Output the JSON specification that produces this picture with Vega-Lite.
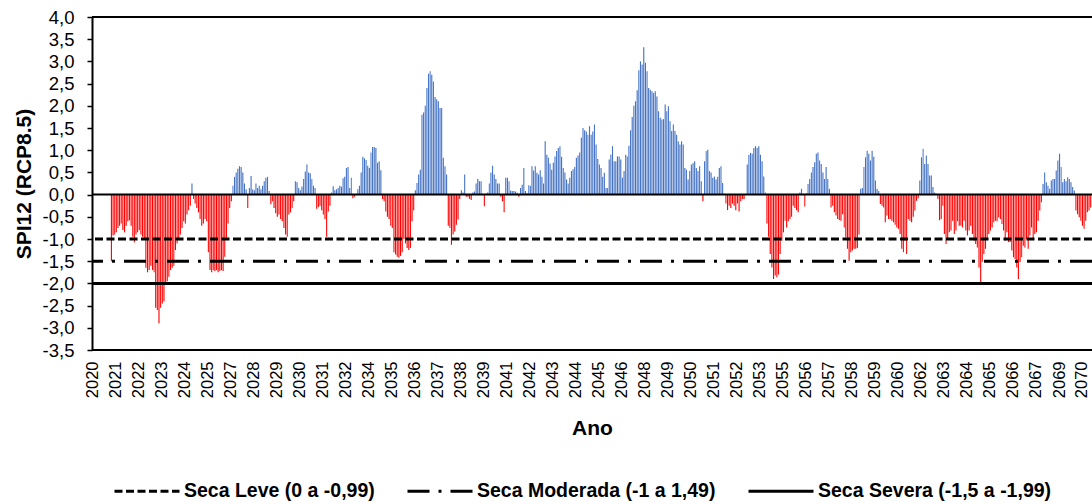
{
  "$schema": "https://vega.github.io/schema/vega-lite/v6.json",
  "width": 1000,
  "height": 333,
  "autosize": {"type": "none"},
  "padding": {"left": 92, "top": 17, "right": 0, "bottom": 154},
  "background": "white",
  "config": {
    "view": {"stroke": null},
    "font": "Liberation Sans",
    "locale": {"number": {"decimal": ",", "thousands": ".", "grouping": [3], "currency": ["", ""], "minus": "-"}},
    "axisY": {
      "labelFontSize": 18.5,
      "labelColor": "black",
      "labelPadding": 13,
      "labelOverlap": false,
      "labelBound": false,
      "labelFlush": false,
      "tickSize": 5,
      "tickWidth": 1.5,
      "tickColor": "black",
      "domainColor": "black",
      "domainWidth": 2,
      "grid": false,
      "titleFontSize": 21,
      "titleFontWeight": "bold",
      "titleColor": "black",
      "titlePadding": 8
    },
    "axisX": {
      "labelAngle": -90,
      "labelFontSize": 16.5,
      "labelColor": "black",
      "labelPadding": 11,
      "labelOverlap": false,
      "labelFlush": false,
      "labelBound": false,
      "ticks": false,
      "domain": false,
      "grid": false,
      "titleFontSize": 21,
      "titleFontWeight": "bold",
      "titleColor": "black",
      "titlePadding": 20
    }
  },
  "datasets": {
    "spi": [
      {"d":"2020-12","v":-1.5},
      {"d":"2021-01","v":-0.92},{"d":"2021-02","v":-0.9},{"d":"2021-03","v":-0.85},{"d":"2021-04","v":-0.75},{"d":"2021-05","v":-0.7},{"d":"2021-06","v":-0.65},{"d":"2021-07","v":-0.8},{"d":"2021-08","v":-0.85},{"d":"2021-09","v":-0.7},{"d":"2021-10","v":-0.6},{"d":"2021-11","v":-0.58},{"d":"2021-12","v":-0.7},
      {"d":"2022-01","v":-0.95},{"d":"2022-02","v":-1.08},{"d":"2022-03","v":-0.9},{"d":"2022-04","v":-0.85},{"d":"2022-05","v":-0.8},{"d":"2022-06","v":-0.9},{"d":"2022-07","v":-0.95},{"d":"2022-08","v":-1.0},{"d":"2022-09","v":-1.65},{"d":"2022-10","v":-1.75},{"d":"2022-11","v":-1.7},{"d":"2022-12","v":-1.6},
      {"d":"2023-01","v":-1.7},{"d":"2023-02","v":-1.75},{"d":"2023-03","v":-2.55},{"d":"2023-04","v":-2.6},{"d":"2023-05","v":-2.9},{"d":"2023-06","v":-2.55},{"d":"2023-07","v":-2.45},{"d":"2023-08","v":-2.4},{"d":"2023-09","v":-2.0},{"d":"2023-10","v":-1.95},{"d":"2023-11","v":-1.85},{"d":"2023-12","v":-1.7},
      {"d":"2024-01","v":-1.65},{"d":"2024-02","v":-1.6},{"d":"2024-03","v":-1.25},{"d":"2024-04","v":-1.1},{"d":"2024-05","v":-1.0},{"d":"2024-06","v":-0.9},{"d":"2024-07","v":-0.75},{"d":"2024-08","v":-0.6},{"d":"2024-09","v":-0.65},{"d":"2024-10","v":-0.45},{"d":"2024-11","v":-0.35},{"d":"2024-12","v":-0.25},
      {"d":"2025-01","v":0.25},{"d":"2025-02","v":-0.1},{"d":"2025-03","v":-0.2},{"d":"2025-04","v":-0.3},{"d":"2025-05","v":-0.4},{"d":"2025-06","v":-0.55},{"d":"2025-07","v":-0.7},{"d":"2025-08","v":-0.65},{"d":"2025-09","v":-0.55},{"d":"2025-10","v":-0.6},{"d":"2025-11","v":-1.3},{"d":"2025-12","v":-1.7},
      {"d":"2026-01","v":-1.75},{"d":"2026-02","v":-1.7},{"d":"2026-03","v":-1.72},{"d":"2026-04","v":-1.7},{"d":"2026-05","v":-1.75},{"d":"2026-06","v":-1.72},{"d":"2026-07","v":-1.7},{"d":"2026-08","v":-1.72},{"d":"2026-09","v":-1.4},{"d":"2026-10","v":-1.0},{"d":"2026-11","v":-0.65},{"d":"2026-12","v":-0.3},
      {"d":"2027-01","v":-0.15},{"d":"2027-02","v":0.2},{"d":"2027-03","v":0.4},{"d":"2027-04","v":0.5},{"d":"2027-05","v":0.58},{"d":"2027-06","v":0.64},{"d":"2027-07","v":0.62},{"d":"2027-08","v":0.5},{"d":"2027-09","v":0.25},{"d":"2027-10","v":0.12},{"d":"2027-11","v":-0.3},{"d":"2027-12","v":0.15},
      {"d":"2028-01","v":0.42},{"d":"2028-02","v":0.12},{"d":"2028-03","v":0.1},{"d":"2028-04","v":0.25},{"d":"2028-05","v":0.15},{"d":"2028-06","v":0.2},{"d":"2028-07","v":0.12},{"d":"2028-08","v":0.2},{"d":"2028-09","v":0.3},{"d":"2028-10","v":0.38},{"d":"2028-11","v":0.4},{"d":"2028-12","v":0.08},
      {"d":"2029-01","v":-0.22},{"d":"2029-02","v":-0.15},{"d":"2029-03","v":-0.3},{"d":"2029-04","v":-0.42},{"d":"2029-05","v":-0.5},{"d":"2029-06","v":-0.45},{"d":"2029-07","v":-0.55},{"d":"2029-08","v":-0.6},{"d":"2029-09","v":-0.75},{"d":"2029-10","v":-0.9},{"d":"2029-11","v":-0.95},{"d":"2029-12","v":-0.45},
      {"d":"2030-01","v":-0.4},{"d":"2030-02","v":-0.3},{"d":"2030-03","v":-0.15},{"d":"2030-04","v":0.3},{"d":"2030-05","v":0.28},{"d":"2030-06","v":0.15},{"d":"2030-07","v":0.1},{"d":"2030-08","v":0.18},{"d":"2030-09","v":0.35},{"d":"2030-10","v":0.52},{"d":"2030-11","v":0.68},{"d":"2030-12","v":0.5},
      {"d":"2031-01","v":0.48},{"d":"2031-02","v":0.35},{"d":"2031-03","v":0.2},{"d":"2031-04","v":0.15},{"d":"2031-05","v":-0.32},{"d":"2031-06","v":-0.28},{"d":"2031-07","v":-0.25},{"d":"2031-08","v":-0.35},{"d":"2031-09","v":-0.45},{"d":"2031-10","v":-0.55},{"d":"2031-11","v":-0.95},{"d":"2031-12","v":-0.38},
      {"d":"2032-01","v":-0.25},{"d":"2032-02","v":0.05},{"d":"2032-03","v":0.19},{"d":"2032-04","v":0.1},{"d":"2032-05","v":0.12},{"d":"2032-06","v":0.15},{"d":"2032-07","v":0.2},{"d":"2032-08","v":0.18},{"d":"2032-09","v":0.37},{"d":"2032-10","v":0.4},{"d":"2032-11","v":0.6},{"d":"2032-12","v":0.62},
      {"d":"2033-01","v":0.15},{"d":"2033-02","v":0.38},{"d":"2033-03","v":-0.08},{"d":"2033-04","v":-0.05},{"d":"2033-05","v":0.02},{"d":"2033-06","v":0.12},{"d":"2033-07","v":0.2},{"d":"2033-08","v":0.5},{"d":"2033-09","v":0.85},{"d":"2033-10","v":0.82},{"d":"2033-11","v":0.78},{"d":"2033-12","v":0.65},
      {"d":"2034-01","v":0.6},{"d":"2034-02","v":0.95},{"d":"2034-03","v":1.07},{"d":"2034-04","v":1.07},{"d":"2034-05","v":1.05},{"d":"2034-06","v":0.72},{"d":"2034-07","v":0.75},{"d":"2034-08","v":0.55},{"d":"2034-09","v":-0.1},{"d":"2034-10","v":-0.15},{"d":"2034-11","v":-0.38},{"d":"2034-12","v":-0.5},
      {"d":"2035-01","v":-0.55},{"d":"2035-02","v":-0.7},{"d":"2035-03","v":-0.75},{"d":"2035-04","v":-1.3},{"d":"2035-05","v":-1.35},{"d":"2035-06","v":-1.4},{"d":"2035-07","v":-1.42},{"d":"2035-08","v":-1.38},{"d":"2035-09","v":-1.3},{"d":"2035-10","v":-1.0},{"d":"2035-11","v":-1.1},{"d":"2035-12","v":-1.2},
      {"d":"2036-01","v":-1.25},{"d":"2036-02","v":-1.2},{"d":"2036-03","v":-0.6},{"d":"2036-04","v":-0.35},{"d":"2036-05","v":0.1},{"d":"2036-06","v":0.26},{"d":"2036-07","v":0.45},{"d":"2036-08","v":0.56},{"d":"2036-09","v":1.8},{"d":"2036-10","v":1.85},{"d":"2036-11","v":2.0},{"d":"2036-12","v":2.4},
      {"d":"2037-01","v":2.72},{"d":"2037-02","v":2.78},{"d":"2037-03","v":2.7},{"d":"2037-04","v":2.55},{"d":"2037-05","v":2.2},{"d":"2037-06","v":2.15},{"d":"2037-07","v":2.1},{"d":"2037-08","v":1.95},{"d":"2037-09","v":1.95},{"d":"2037-10","v":0.83},{"d":"2037-11","v":0.64},{"d":"2037-12","v":0.45},
      {"d":"2038-01","v":-0.7},{"d":"2038-02","v":-0.75},{"d":"2038-03","v":-1.13},{"d":"2038-04","v":-0.9},{"d":"2038-05","v":-0.83},{"d":"2038-06","v":-0.68},{"d":"2038-07","v":-0.56},{"d":"2038-08","v":-0.1},{"d":"2038-09","v":0.1},{"d":"2038-10","v":0.05},{"d":"2038-11","v":0.45},{"d":"2038-12","v":-0.05},
      {"d":"2039-01","v":-0.05},{"d":"2039-02","v":-0.1},{"d":"2039-03","v":-0.12},{"d":"2039-04","v":0.05},{"d":"2039-05","v":0.07},{"d":"2039-06","v":0.25},{"d":"2039-07","v":0.35},{"d":"2039-08","v":0.3},{"d":"2039-09","v":0.3},{"d":"2039-10","v":0.02},{"d":"2039-11","v":-0.26},{"d":"2039-12","v":0.02},
      {"d":"2040-01","v":0.05},{"d":"2040-02","v":0.25},{"d":"2040-03","v":0.5},{"d":"2040-04","v":0.65},{"d":"2040-05","v":0.45},{"d":"2040-06","v":0.35},{"d":"2040-07","v":0.25},{"d":"2040-08","v":0.25},{"d":"2040-09","v":-0.05},{"d":"2040-10","v":-0.15},{"d":"2040-11","v":-0.4},{"d":"2040-12","v":0.38},
      {"d":"2041-01","v":0.38},{"d":"2041-02","v":0.3},{"d":"2041-03","v":0.09},{"d":"2041-04","v":0.08},{"d":"2041-05","v":0.08},{"d":"2041-06","v":0.07},{"d":"2041-07","v":0.04},{"d":"2041-08","v":-0.05},{"d":"2041-09","v":0.15},{"d":"2041-10","v":0.22},{"d":"2041-11","v":0.6},{"d":"2041-12","v":0.08},
      {"d":"2042-01","v":0.03},{"d":"2042-02","v":0.21},{"d":"2042-03","v":0.2},{"d":"2042-04","v":0.64},{"d":"2042-05","v":0.54},{"d":"2042-06","v":0.64},{"d":"2042-07","v":0.49},{"d":"2042-08","v":0.45},{"d":"2042-09","v":0.55},{"d":"2042-10","v":0.4},{"d":"2042-11","v":0.25},{"d":"2042-12","v":1.2},
      {"d":"2043-01","v":0.9},{"d":"2043-02","v":0.83},{"d":"2043-03","v":0.7},{"d":"2043-04","v":0.56},{"d":"2043-05","v":0.72},{"d":"2043-06","v":0.86},{"d":"2043-07","v":0.98},{"d":"2043-08","v":1.05},{"d":"2043-09","v":1.09},{"d":"2043-10","v":0.85},{"d":"2043-11","v":0.6},{"d":"2043-12","v":0.5},
      {"d":"2044-01","v":0.34},{"d":"2044-02","v":0.25},{"d":"2044-03","v":0.38},{"d":"2044-04","v":0.53},{"d":"2044-05","v":0.57},{"d":"2044-06","v":0.62},{"d":"2044-07","v":0.83},{"d":"2044-08","v":0.88},{"d":"2044-09","v":0.95},{"d":"2044-10","v":1.28},{"d":"2044-11","v":1.5},{"d":"2044-12","v":1.45},
      {"d":"2045-01","v":1.42},{"d":"2045-02","v":1.35},{"d":"2045-03","v":1.54},{"d":"2045-04","v":1.35},{"d":"2045-05","v":1.42},{"d":"2045-06","v":1.58},{"d":"2045-07","v":1.13},{"d":"2045-08","v":0.8},{"d":"2045-09","v":0.68},{"d":"2045-10","v":0.6},{"d":"2045-11","v":0.4},{"d":"2045-12","v":0.49},
      {"d":"2046-01","v":0.15},{"d":"2046-02","v":0.15},{"d":"2046-03","v":0.79},{"d":"2046-04","v":0.9},{"d":"2046-05","v":1.09},{"d":"2046-06","v":0.75},{"d":"2046-07","v":0.75},{"d":"2046-08","v":0.86},{"d":"2046-09","v":0.86},{"d":"2046-10","v":0.79},{"d":"2046-11","v":0.38},{"d":"2046-12","v":0.53},
      {"d":"2047-01","v":0.9},{"d":"2047-02","v":0.86},{"d":"2047-03","v":1.1},{"d":"2047-04","v":1.45},{"d":"2047-05","v":1.75},{"d":"2047-06","v":2.0},{"d":"2047-07","v":2.1},{"d":"2047-08","v":2.35},{"d":"2047-09","v":2.8},{"d":"2047-10","v":3.0},{"d":"2047-11","v":2.93},{"d":"2047-12","v":3.32},
      {"d":"2048-01","v":2.97},{"d":"2048-02","v":2.78},{"d":"2048-03","v":2.4},{"d":"2048-04","v":2.36},{"d":"2048-05","v":2.33},{"d":"2048-06","v":2.29},{"d":"2048-07","v":2.33},{"d":"2048-08","v":2.21},{"d":"2048-09","v":1.88},{"d":"2048-10","v":1.73},{"d":"2048-11","v":1.69},{"d":"2048-12","v":1.7},
      {"d":"2049-01","v":2.03},{"d":"2049-02","v":1.88},{"d":"2049-03","v":1.99},{"d":"2049-04","v":1.65},{"d":"2049-05","v":1.43},{"d":"2049-06","v":1.58},{"d":"2049-07","v":1.43},{"d":"2049-08","v":1.35},{"d":"2049-09","v":1.2},{"d":"2049-10","v":1.13},{"d":"2049-11","v":1.2},{"d":"2049-12","v":1.13},
      {"d":"2050-01","v":0.6},{"d":"2050-02","v":0.56},{"d":"2050-03","v":0.34},{"d":"2050-04","v":0.53},{"d":"2050-05","v":0.68},{"d":"2050-06","v":0.71},{"d":"2050-07","v":0.75},{"d":"2050-08","v":0.6},{"d":"2050-09","v":0.53},{"d":"2050-10","v":0.64},{"d":"2050-11","v":0.3},{"d":"2050-12","v":-0.15},
      {"d":"2051-01","v":0.75},{"d":"2051-02","v":0.98},{"d":"2051-03","v":1.01},{"d":"2051-04","v":0.53},{"d":"2051-05","v":0.5},{"d":"2051-06","v":0.38},{"d":"2051-07","v":0.41},{"d":"2051-08","v":0.34},{"d":"2051-09","v":0.4},{"d":"2051-10","v":0.6},{"d":"2051-11","v":0.64},{"d":"2051-12","v":0.26},
      {"d":"2052-01","v":0.02},{"d":"2052-02","v":-0.2},{"d":"2052-03","v":-0.35},{"d":"2052-04","v":-0.25},{"d":"2052-05","v":-0.3},{"d":"2052-06","v":-0.2},{"d":"2052-07","v":-0.25},{"d":"2052-08","v":-0.35},{"d":"2052-09","v":-0.2},{"d":"2052-10","v":-0.38},{"d":"2052-11","v":-0.15},{"d":"2052-12","v":-0.1},
      {"d":"2053-01","v":-0.1},{"d":"2053-02","v":0.02},{"d":"2053-03","v":0.68},{"d":"2053-04","v":0.9},{"d":"2053-05","v":0.94},{"d":"2053-06","v":0.92},{"d":"2053-07","v":1.05},{"d":"2053-08","v":1.09},{"d":"2053-09","v":1.05},{"d":"2053-10","v":1.09},{"d":"2053-11","v":0.9},{"d":"2053-12","v":0.75},
      {"d":"2054-01","v":0.41},{"d":"2054-02","v":0.05},{"d":"2054-03","v":-0.65},{"d":"2054-04","v":-0.95},{"d":"2054-05","v":-1.34},{"d":"2054-06","v":-1.64},{"d":"2054-07","v":-1.9},{"d":"2054-08","v":-1.82},{"d":"2054-09","v":-1.86},{"d":"2054-10","v":-1.8},{"d":"2054-11","v":-1.34},{"d":"2054-12","v":-1.04},
      {"d":"2055-01","v":-0.85},{"d":"2055-02","v":-0.59},{"d":"2055-03","v":-0.74},{"d":"2055-04","v":-0.6},{"d":"2055-05","v":-0.55},{"d":"2055-06","v":-0.5},{"d":"2055-07","v":-0.25},{"d":"2055-08","v":-0.3},{"d":"2055-09","v":-0.35},{"d":"2055-10","v":-0.4},{"d":"2055-11","v":0.05},{"d":"2055-12","v":0.13},
      {"d":"2056-01","v":0.02},{"d":"2056-02","v":-0.27},{"d":"2056-03","v":0.03},{"d":"2056-04","v":0.24},{"d":"2056-05","v":0.35},{"d":"2056-06","v":0.5},{"d":"2056-07","v":0.62},{"d":"2056-08","v":0.73},{"d":"2056-09","v":0.92},{"d":"2056-10","v":0.95},{"d":"2056-11","v":0.77},{"d":"2056-12","v":0.69},
      {"d":"2057-01","v":0.5},{"d":"2057-02","v":0.35},{"d":"2057-03","v":0.62},{"d":"2057-04","v":0.35},{"d":"2057-05","v":0.13},{"d":"2057-06","v":-0.29},{"d":"2057-07","v":-0.25},{"d":"2057-08","v":-0.4},{"d":"2057-09","v":-0.47},{"d":"2057-10","v":-0.55},{"d":"2057-11","v":-0.57},{"d":"2057-12","v":-0.59},
      {"d":"2058-01","v":-0.44},{"d":"2058-02","v":-0.74},{"d":"2058-03","v":-0.96},{"d":"2058-04","v":-1.22},{"d":"2058-05","v":-1.49},{"d":"2058-06","v":-1.3},{"d":"2058-07","v":-1.26},{"d":"2058-08","v":-1.22},{"d":"2058-09","v":-1.22},{"d":"2058-10","v":-1.2},{"d":"2058-11","v":-0.9},{"d":"2058-12","v":0.13},
      {"d":"2059-01","v":0.15},{"d":"2059-02","v":0.62},{"d":"2059-03","v":0.84},{"d":"2059-04","v":0.99},{"d":"2059-05","v":0.92},{"d":"2059-06","v":0.77},{"d":"2059-07","v":0.99},{"d":"2059-08","v":0.85},{"d":"2059-09","v":0.32},{"d":"2059-10","v":0.13},{"d":"2059-11","v":0.08},{"d":"2059-12","v":-0.21},
      {"d":"2060-01","v":-0.25},{"d":"2060-02","v":-0.29},{"d":"2060-03","v":-0.62},{"d":"2060-04","v":-0.47},{"d":"2060-05","v":-0.55},{"d":"2060-06","v":-0.55},{"d":"2060-07","v":-0.59},{"d":"2060-08","v":-0.62},{"d":"2060-09","v":-0.68},{"d":"2060-10","v":-0.74},{"d":"2060-11","v":-0.77},{"d":"2060-12","v":-0.89},
      {"d":"2061-01","v":-1.22},{"d":"2061-02","v":-1.3},{"d":"2061-03","v":-1.04},{"d":"2061-04","v":-1.34},{"d":"2061-05","v":-0.55},{"d":"2061-06","v":-0.59},{"d":"2061-07","v":-0.62},{"d":"2061-08","v":-0.5},{"d":"2061-09","v":-0.36},{"d":"2061-10","v":-0.14},{"d":"2061-11","v":-0.08},{"d":"2061-12","v":0.32},
      {"d":"2062-01","v":0.84},{"d":"2062-02","v":1.03},{"d":"2062-03","v":0.69},{"d":"2062-04","v":0.88},{"d":"2062-05","v":0.69},{"d":"2062-06","v":0.43},{"d":"2062-07","v":0.43},{"d":"2062-08","v":0.17},{"d":"2062-09","v":0.05},{"d":"2062-10","v":0.02},{"d":"2062-11","v":-0.1},{"d":"2062-12","v":-0.58},
      {"d":"2063-01","v":-0.55},{"d":"2063-02","v":-0.25},{"d":"2063-03","v":-0.89},{"d":"2063-04","v":-1.11},{"d":"2063-05","v":-1.0},{"d":"2063-06","v":-0.85},{"d":"2063-07","v":-0.81},{"d":"2063-08","v":-0.59},{"d":"2063-09","v":-0.89},{"d":"2063-10","v":-0.81},{"d":"2063-11","v":-0.6},{"d":"2063-12","v":-0.7},
      {"d":"2064-01","v":-0.7},{"d":"2064-02","v":-0.74},{"d":"2064-03","v":-0.59},{"d":"2064-04","v":-0.81},{"d":"2064-05","v":-0.92},{"d":"2064-06","v":-0.81},{"d":"2064-07","v":-0.7},{"d":"2064-08","v":-0.89},{"d":"2064-09","v":-1.04},{"d":"2064-10","v":-1.11},{"d":"2064-11","v":-1.19},{"d":"2064-12","v":-1.64},
      {"d":"2065-01","v":-1.97},{"d":"2065-02","v":-1.52},{"d":"2065-03","v":-1.34},{"d":"2065-04","v":-1.22},{"d":"2065-05","v":-1.0},{"d":"2065-06","v":-0.89},{"d":"2065-07","v":-0.81},{"d":"2065-08","v":-0.74},{"d":"2065-09","v":-0.62},{"d":"2065-10","v":-0.59},{"d":"2065-11","v":-0.6},{"d":"2065-12","v":-0.51},
      {"d":"2066-01","v":-0.55},{"d":"2066-02","v":-0.66},{"d":"2066-03","v":-0.81},{"d":"2066-04","v":-1.04},{"d":"2066-05","v":-0.85},{"d":"2066-06","v":-1.07},{"d":"2066-07","v":-1.07},{"d":"2066-08","v":-1.26},{"d":"2066-09","v":-1.41},{"d":"2066-10","v":-1.45},{"d":"2066-11","v":-1.64},{"d":"2066-12","v":-1.9},
      {"d":"2067-01","v":-1.52},{"d":"2067-02","v":-1.41},{"d":"2067-03","v":-1.15},{"d":"2067-04","v":-1.19},{"d":"2067-05","v":-1.0},{"d":"2067-06","v":-1.22},{"d":"2067-07","v":-0.92},{"d":"2067-08","v":-0.74},{"d":"2067-09","v":-1.0},{"d":"2067-10","v":-0.89},{"d":"2067-11","v":-0.85},{"d":"2067-12","v":-0.59},
      {"d":"2068-01","v":-0.36},{"d":"2068-02","v":-0.17},{"d":"2068-03","v":0.24},{"d":"2068-04","v":0.5},{"d":"2068-05","v":0.28},{"d":"2068-06","v":0.2},{"d":"2068-07","v":0.13},{"d":"2068-08","v":0.32},{"d":"2068-09","v":0.35},{"d":"2068-10","v":0.35},{"d":"2068-11","v":0.54},{"d":"2068-12","v":0.77},
      {"d":"2069-01","v":0.92},{"d":"2069-02","v":0.62},{"d":"2069-03","v":0.28},{"d":"2069-04","v":0.35},{"d":"2069-05","v":0.3},{"d":"2069-06","v":0.39},{"d":"2069-07","v":0.35},{"d":"2069-08","v":0.28},{"d":"2069-09","v":0.17},{"d":"2069-10","v":0.09},{"d":"2069-11","v":-0.36},{"d":"2069-12","v":-0.44},
      {"d":"2070-01","v":-0.51},{"d":"2070-02","v":-0.59},{"d":"2070-03","v":-0.7},{"d":"2070-04","v":-0.77},{"d":"2070-05","v":-0.59},{"d":"2070-06","v":-0.4},{"d":"2070-07","v":-0.36},{"d":"2070-08","v":-0.29}
    ],
    "faixas": [
      {"nome": "Seca Leve (0 a -0,99)", "v": -1.0},
      {"nome": "Seca Moderada (-1 a 1,49)", "v": -1.5},
      {"nome": "Seca Severa (-1,5 a -1,99)", "v": -2.0}
    ],
    "moldura": [
      {"v": 0, "w": 2},
      {"v": 4, "w": 2},
      {"v": -3.5, "w": 2}
    ]
  },
  "layer": [
    {
      "data": {"name": "spi"},
      "mark": {"type": "bar", "binSpacing": 0.55},
      "encoding": {
        "x": {
          "field": "d",
          "type": "temporal",
          "timeUnit": "utcyearmonth",
          "title": "Ano",
          "scale": {
            "type": "utc",
            "nice": false,
            "domain": [{"year": 2020, "month": 1, "date": 1, "utc": true}, {"year": 2070, "month": 9, "date": 19, "utc": true}]
          },
          "axis": {
            "values": [
              {"year": 2020, "month": 1, "date": 16, "utc": true},
              {"year": 2021, "month": 3, "date": 16, "utc": true},
              {"year": 2022, "month": 5, "date": 16, "utc": true},
              {"year": 2023, "month": 7, "date": 16, "utc": true},
              {"year": 2024, "month": 9, "date": 16, "utc": true},
              {"year": 2025, "month": 11, "date": 16, "utc": true},
              {"year": 2027, "month": 1, "date": 16, "utc": true},
              {"year": 2028, "month": 3, "date": 16, "utc": true},
              {"year": 2029, "month": 5, "date": 16, "utc": true},
              {"year": 2030, "month": 7, "date": 16, "utc": true},
              {"year": 2031, "month": 9, "date": 16, "utc": true},
              {"year": 2032, "month": 11, "date": 16, "utc": true},
              {"year": 2034, "month": 1, "date": 16, "utc": true},
              {"year": 2035, "month": 3, "date": 16, "utc": true},
              {"year": 2036, "month": 5, "date": 16, "utc": true},
              {"year": 2037, "month": 7, "date": 16, "utc": true},
              {"year": 2038, "month": 9, "date": 16, "utc": true},
              {"year": 2039, "month": 11, "date": 16, "utc": true},
              {"year": 2041, "month": 1, "date": 16, "utc": true},
              {"year": 2042, "month": 3, "date": 16, "utc": true},
              {"year": 2043, "month": 5, "date": 16, "utc": true},
              {"year": 2044, "month": 7, "date": 16, "utc": true},
              {"year": 2045, "month": 9, "date": 16, "utc": true},
              {"year": 2046, "month": 11, "date": 16, "utc": true},
              {"year": 2048, "month": 1, "date": 16, "utc": true},
              {"year": 2049, "month": 3, "date": 16, "utc": true},
              {"year": 2050, "month": 5, "date": 16, "utc": true},
              {"year": 2051, "month": 7, "date": 16, "utc": true},
              {"year": 2052, "month": 9, "date": 16, "utc": true},
              {"year": 2053, "month": 11, "date": 16, "utc": true},
              {"year": 2055, "month": 1, "date": 16, "utc": true},
              {"year": 2056, "month": 3, "date": 16, "utc": true},
              {"year": 2057, "month": 5, "date": 16, "utc": true},
              {"year": 2058, "month": 7, "date": 16, "utc": true},
              {"year": 2059, "month": 9, "date": 16, "utc": true},
              {"year": 2060, "month": 11, "date": 16, "utc": true},
              {"year": 2062, "month": 1, "date": 16, "utc": true},
              {"year": 2063, "month": 3, "date": 16, "utc": true},
              {"year": 2064, "month": 5, "date": 16, "utc": true},
              {"year": 2065, "month": 7, "date": 16, "utc": true},
              {"year": 2066, "month": 9, "date": 16, "utc": true},
              {"year": 2067, "month": 11, "date": 16, "utc": true},
              {"year": 2069, "month": 1, "date": 16, "utc": true},
              {"year": 2070, "month": 3, "date": 16, "utc": true}
            ],
            "labelExpr": "utcFormat(datum.value, '%Y')"
          }
        },
        "y": {
          "field": "v",
          "type": "quantitative",
          "title": "SPI12 (RCP8.5)",
          "scale": {"domain": [-3.5, 4], "nice": false},
          "axis": {
            "values": [-3.5, -3, -2.5, -2, -1.5, -1, -0.5, 0, 0.5, 1, 1.5, 2, 2.5, 3, 3.5, 4],
            "format": ".1f",
            "labelOverlap": false,
            "labelFontSize": 18.5,
            "labelSeparation": 0
          }
        },
        "color": {"condition": {"test": "datum.v < 0", "value": "#FF0000"}, "value": "#4472C4"}
      }
    },
    {
      "data": {"name": "moldura"},
      "mark": {"type": "rule", "color": "black", "strokeWidth": 2},
      "encoding": {
        "y": {
          "field": "v",
          "type": "quantitative",
          "title": "SPI12 (RCP8.5)",
          "axis": {
            "values": [-3.5, -3, -2.5, -2, -1.5, -1, -0.5, 0, 0.5, 1, 1.5, 2, 2.5, 3, 3.5, 4],
            "format": ".1f",
            "labelOverlap": false,
            "labelFontSize": 18.5,
            "labelSeparation": 0
          }
        }
      }
    },
    {
      "data": {"name": "faixas"},
      "mark": {"type": "rule", "color": "black", "strokeWidth": 3, "strokeCap": "butt"},
      "encoding": {
        "y": {
          "field": "v",
          "type": "quantitative",
          "title": "SPI12 (RCP8.5)",
          "axis": {
            "values": [-3.5, -3, -2.5, -2, -1.5, -1, -0.5, 0, 0.5, 1, 1.5, 2, 2.5, 3, 3.5, 4],
            "format": ".1f",
            "labelOverlap": false,
            "labelFontSize": 18.5,
            "labelSeparation": 0
          }
        },
        "strokeDash": {
          "field": "nome",
          "type": "nominal",
          "scale": {
            "domain": ["Seca Leve (0 a -0,99)", "Seca Moderada (-1 a 1,49)", "Seca Severa (-1,5 a -1,99)"],
            "range": [[8, 3.5], [22, 9, 3, 9], [1, 0]]
          },
          "legend": {
            "title": null,
            "orient": "none",
            "legendX": 21,
            "legendY": 440,
            "direction": "horizontal",
            "symbolType": "stroke",
            "symbolSize": 4225,
            "symbolStrokeWidth": 3,
            "symbolStrokeColor": "black",
            "labelFontSize": 19.5,
            "labelFontWeight": "bold",
            "labelColor": "black",
            "labelOffset": 3,
            "labelLimit": 400,
            "columnPadding": 26
          }
        }
      }
    }
  ]
}
